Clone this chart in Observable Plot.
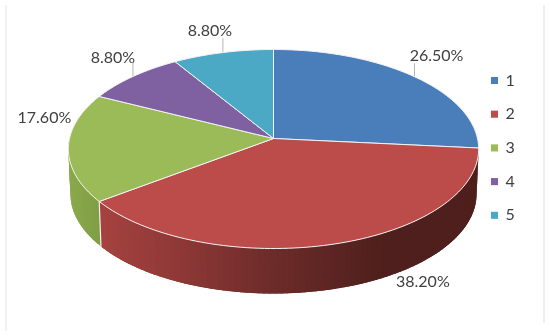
<!DOCTYPE html>
<html><head><meta charset="utf-8">
<style>
html,body{margin:0;padding:0;background:#fff;width:550px;height:336px;overflow:hidden}
#chart{position:absolute;left:0;top:0;width:550px;height:336px}
#chart svg{filter:blur(.45px)}
.edge{position:absolute;background:#f1f1f1}
</style>
<script src="https://cdn.jsdelivr.net/npm/d3@7"></script>
<script src="https://cdn.jsdelivr.net/npm/@observablehq/plot@0.6"></script>
</head><body>
<div class="edge" style="left:5px;top:5px;width:2px;height:326px"></div>
<div class="edge" style="left:543px;top:5px;width:2px;height:318px"></div>
<div id="chart"></div>
<script>
const categories = ["1", "2", "3", "4", "5"];
const values = [26.5, 38.2, 17.6, 8.8, 8.8];
const valueLabels = ["26.50%", "38.20%", "17.60%", "8.80%", "8.80%"];
const colors = ["#4a7ebb", "#bc4c4a", "#9bbb59", "#7f60a0", "#4ba9c5"];

// layout only
const pie = {cx: 273, cy: 138, a: 204, b: 98.4, k: 0.1055, depth: 45, shrink: 0.99};
const labelOffset = [[22, -21], [88, 38], [-24, -30], [-20, -19], [-13, -22]];
const leaderLength = [13, 0, 0, 13, 14];
const legend = {x: 494, textX: 505, top: 80, step: 33.7};

const total = d3.sum(values);
const cum = d3.cumsum(values);
const ends = Array.from(cum, v => v / total * 360);
const starts = [0, ...ends.slice(0, -1)];
ends[ends.length - 1] = 360;

function project(deg, depth = 0) {
  const t = deg * Math.PI / 180, w = 1 + pie.k * Math.cos(t);
  const s = depth ? pie.shrink : 1;
  return {x: pie.cx + s * pie.a * Math.sin(t) / w, y: pie.cy - pie.b * Math.cos(t) / w + depth};
}
function arc(a0, a1, depth = 0) {
  return d3.range(0, 1.0001, 1 / Math.max(2, Math.ceil(Math.abs(a1 - a0) / 1.5))).map(f => project(a0 + (a1 - a0) * f, depth));
}

const topRows = categories.flatMap((c, i) => {
  const pts = [{x: pie.cx, y: pie.cy}, ...arc(starts[i], ends[i]), {x: pie.cx, y: pie.cy}];
  return pts.map(p => ({...p, z: c, fill: colors[i]}));
});

const redSide = d3.scaleLinear().domain([100, 190, 275, 385]).range(["#a5423f", "#8a3735", "#6c2b29", "#4e1f1c"]).clamp(true);
const greenSide = d3.scaleLinear().domain([69, 100]).range(["#8aa94c", "#7f9e44"]).clamp(true);
const sideRows = [];
function addSide(a0, a1, shade, tag) {
  const n = Math.ceil((a1 - a0) / 1.5);
  const step = (a1 - a0) / n;
  for (let j = 0; j < n; j++) {
    // each strip reaches well into the next one, so no seam can show between them
    const u = a0 + step * j, v = Math.min(a1, u + step * 2.2);
    const pts = [project(u), ...arc(u, v).slice(1), project(v, pie.depth), project(u, pie.depth), project(u)];
    const col = shade(d3.mean([project(u), project(u + step)], p => p.x));
    pts.forEach(p => sideRows.push({...p, z: tag + j, fill: col}));
  }
}
addSide(ends[0], ends[1], redSide, "r");
addSide(ends[1], 270, greenSide, "g");

const seam = [project(ends[1]), project(ends[1], pie.depth)];

const mids = categories.map((c, i) => project((starts[i] + ends[i]) / 2));
const labelRows = valueLabels.map((t, i) => ({t, x: mids[i].x + labelOffset[i][0], y: mids[i].y + labelOffset[i][1]}));
const leaderRows = mids.map((m, i) => ({x: m.x, y1: m.y, y2: m.y - leaderLength[i]})).filter(d => d.y1 !== d.y2);
const legendRows = categories.map((c, i) => ({c, col: colors[i], x: legend.x, tx: legend.textX, y: legend.top + i * legend.step}));

const plot = Plot.plot({
  width: 550, height: 336, margin: 0, axis: null,
  x: {type: "linear", domain: [0, 550], range: [0, 550]},
  y: {type: "linear", domain: [0, 336], range: [0, 336]},
  color: {type: "identity"},
  style: {background: "transparent"},
  marks: [
    Plot.line(sideRows, {x: "x", y: "y", z: "z", fill: d => d.fill, curve: "linear", stroke: "none"}),
    Plot.line(seam, {x: "x", y: "y", stroke: "#f4eeee", strokeWidth: 1.2}),
    Plot.line(topRows, {x: "x", y: "y", z: "z", fill: d => d.fill, stroke: "#f2f2f2", strokeWidth: 1, curve: "linear"}),
    Plot.ruleX(leaderRows, {x: "x", y1: "y1", y2: "y2", stroke: "#b5b5b5", strokeWidth: 1}),
    Plot.text(labelRows, {x: "x", y: "y", text: "t", fontSize: 16, fontFamily: "Lato", fill: "#404040"}),
    Plot.dot(legendRows, {x: "x", y: "y", symbol: "square", r: 4, fill: d => d.col, stroke: "none"}),
    Plot.text(legendRows, {x: "tx", y: "y", text: "c", textAnchor: "start", fontSize: 16, fontFamily: "Lato", fill: "#404040"})
  ]
});
document.getElementById("chart").appendChild(plot);
</script>
</body></html>
